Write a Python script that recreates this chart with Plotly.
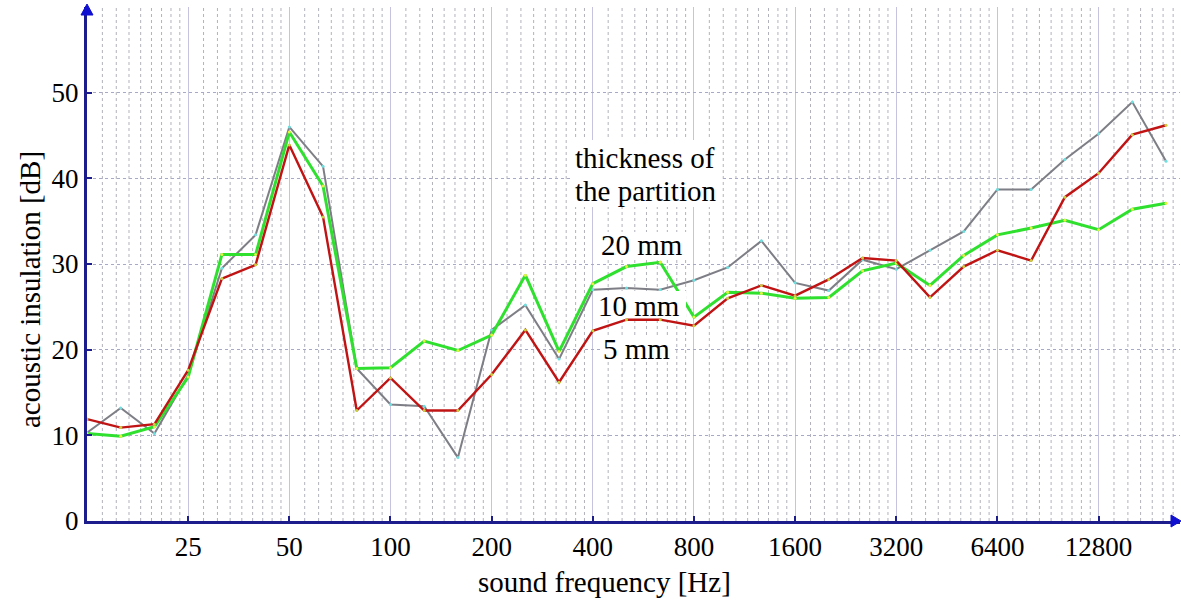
import plotly.graph_objects as go
import numpy as np

# third-octave band index (0 = 12.5 Hz ... 32 = 20 kHz)
band_index = list(range(33))

# octave tick labels
tick_index = [3, 6, 9, 12, 15, 18, 21, 24, 27, 30]
tick_labels = ["25", "50", "100", "200", "400", "800", "1600", "3200", "6400", "12800"]

# acoustic insulation [dB]
gray_10mm = [10.3, 13.2, 10.2, 17.0, 29.5, 33.4, 46.0, 41.4, 17.8, 13.6, 13.4, 7.4,
             22.3, 25.2, 18.9, 27.0, 27.2, 27.0, 28.1, 29.6, 32.7, 27.8, 26.9, 30.5,
             29.4, 31.6, 33.8, 38.7, 38.7, 42.2, 45.2, 48.9, 42.0]
green_20mm = [10.2, 9.9, 11.0, 16.8, 31.1, 31.1, 45.4, 39.1, 17.8, 17.9, 21.0, 19.9,
              21.7, 28.7, 19.8, 27.7, 29.7, 30.2, 23.8, 26.7, 26.6, 26.0, 26.1, 29.2,
              30.1, 27.5, 31.0, 33.4, 34.2, 35.1, 34.0, 36.4, 37.1]
red_5mm = [11.9, 10.9, 11.3, 17.6, 28.3, 29.9, 43.9, 35.5, 12.9, 16.7, 12.9, 12.9,
           17.1, 22.3, 16.2, 22.2, 23.5, 23.5, 22.8, 26.0, 27.5, 26.3, 28.2, 30.7,
           30.4, 26.1, 29.7, 31.6, 30.4, 37.8, 40.6, 45.1, 46.2]

y_tickvals = [0, 10, 20, 30, 40, 50, 60]
y_ticktext = ["0", "10", "20", "30", "40", "50", ""]

FONT = "Liberation Serif"
AXIS_C = "#1c1c8c"
ARROW_C = "#1010d0"

W, H = 1181, 600
L, R, T, B = 87, 1, 7, 79
PW, PH = W - L - R, H - T - B
STEP = 33.72
XMAX = PW / STEP


def px(x):
    return (x - L) / PW


def py(y):
    return (H - B - y) / PH


fig = go.Figure()

fig.add_trace(go.Scatter(x=band_index, y=gray_10mm, mode="lines+markers",
                         line=dict(color="#7e7e86", width=2),
                         marker=dict(size=3, color="#6fe0e0"), showlegend=False))
fig.add_trace(go.Scatter(x=band_index, y=green_20mm, mode="lines+markers",
                         line=dict(color="#2fe02f", width=3),
                         marker=dict(size=3, color="#e8f040"), showlegend=False))
fig.add_trace(go.Scatter(x=band_index, y=red_5mm, mode="lines+markers",
                         line=dict(color="#c01414", width=2.4),
                         marker=dict(size=3, color="#c8d040"), showlegend=False))

shapes = []
# minor vertical dotted grid (9 subdivisions per octave)
for octv in range(0, 11):
    base = octv * 3
    for k in range(1, 9):
        xv = base + 3 * np.log2(1 + k / 9)
        if xv < XMAX:
            shapes.append(dict(type="line", xref="x", yref="y", x0=xv, x1=xv, y0=0, y1=60,
                               line=dict(color="#b2b2bc", width=1, dash="dot"), layer="below"))

# white boxes behind the label texts
for (x0, y0, x1, y1) in [(570, 140, 720, 207), (598, 232, 688, 258),
                         (598, 291, 686, 318), (600, 337, 672, 362)]:
    shapes.append(dict(type="rect", xref="paper", yref="paper",
                       x0=px(x0), x1=px(x1), y0=py(y1), y1=py(y0),
                       fillcolor="white", line=dict(width=0), layer="above"))

# arrows
shapes.append(dict(type="path", xref="paper", yref="paper",
                   path=f"M {px(87)} {py(4)} L {px(81)} {py(15)} L {px(93)} {py(15)} Z",
                   fillcolor=ARROW_C, line=dict(color=ARROW_C, width=1), layer="above"))
shapes.append(dict(type="path", xref="paper", yref="paper",
                   path=f"M {px(1181)} {py(521)} L {px(1171)} {py(515)} L {px(1171)} {py(527)} Z",
                   fillcolor=ARROW_C, line=dict(color=ARROW_C, width=1), layer="above"))

annotations = []
txt = dict(xref="paper", yref="paper", showarrow=False, xanchor="center", yanchor="middle",
           font=dict(family=FONT, size=29, color="black"))
annotations.append(dict(text="thickness of", x=px(645), y=py(158), **txt))
annotations.append(dict(text="the partition", x=px(645), y=py(191), **txt))
annotations.append(dict(text="20 mm", x=px(642), y=py(245), **txt))
annotations.append(dict(text="10 mm", x=px(639), y=py(306), **txt))
annotations.append(dict(text="5 mm", x=px(636), y=py(349), **txt))

annotations.append(dict(text="sound frequency [Hz]", xref="paper", yref="paper", showarrow=False,
                        x=px(604), y=py(582), xanchor="center", yanchor="middle",
                        font=dict(family=FONT, size=29, color="black")))
annotations.append(dict(text="acoustic insulation [dB]", xref="paper", yref="paper", showarrow=False,
                        x=px(30), y=py(290), xanchor="center", yanchor="middle", textangle=-90,
                        font=dict(family=FONT, size=29, color="black")))

fig.update_layout(
    width=W, height=H,
    margin=dict(l=L, r=R, t=T, b=B),
    paper_bgcolor="white", plot_bgcolor="white",
    shapes=shapes, annotations=annotations,
    xaxis=dict(range=[0, XMAX], tickmode="array", tickvals=tick_index, ticktext=tick_labels,
               showgrid=True, gridcolor="#c4c4de", gridwidth=1.3,
               showline=True, linecolor=AXIS_C, linewidth=3,
               ticks="inside", ticklen=5, tickcolor=AXIS_C, tickwidth=1.5,
               tickfont=dict(family=FONT, size=27, color="black"),
               zeroline=False, fixedrange=True),
    yaxis=dict(range=[0, 60], tickmode="array", tickvals=y_tickvals, ticktext=y_ticktext,
               showgrid=True, gridcolor="#a8a8c8", gridwidth=1, griddash="dot",
               showline=True, linecolor=AXIS_C, linewidth=3,
               ticks="inside", ticklen=5, tickcolor=AXIS_C, tickwidth=1.5,
               tickfont=dict(family=FONT, size=27, color="black"),
               zeroline=False, fixedrange=True),
)

fig.write_html("out.html")
